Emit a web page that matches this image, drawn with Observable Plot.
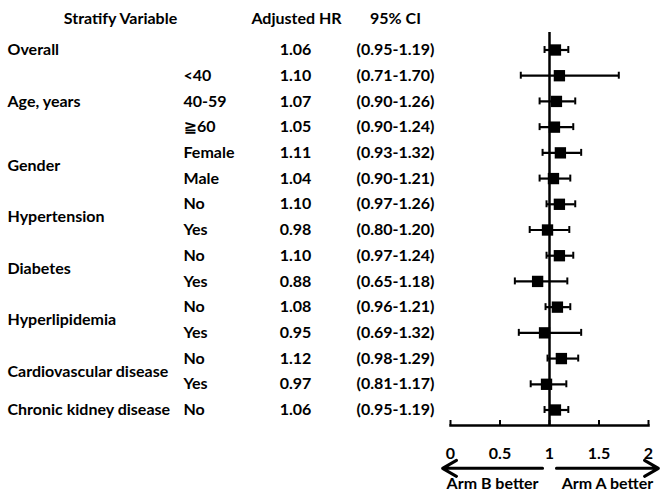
<!DOCTYPE html>
<html><head><meta charset="utf-8">
<script src="https://cdn.jsdelivr.net/npm/d3@7"></script>
<script src="https://cdn.jsdelivr.net/npm/@observablehq/plot@0.6"></script>
<style>
body{margin:0;background:#fff}
svg{font-family:Lato,"Open Sans","DejaVu Sans",sans-serif;font-weight:bold}
</style>
</head><body><div id="chart"></div>
<script>
const variables = ["Overall","Age, years","Age, years","Age, years","Gender","Gender","Hypertension","Hypertension","Diabetes","Diabetes","Hyperlipidemia","Hyperlipidemia","Cardiovascular disease","Cardiovascular disease","Chronic kidney disease"];
const subgroups = ["","<40","40-59","≧60","Female","Male","No","Yes","No","Yes","No","Yes","No","Yes","No"];
const hr = [1.06,1.10,1.07,1.05,1.11,1.04,1.10,0.98,1.10,0.88,1.08,0.95,1.12,0.97,1.06];
const lower = [0.95,0.71,0.90,0.90,0.93,0.90,0.97,0.80,0.97,0.65,0.96,0.69,0.98,0.81,0.95];
const upper = [1.19,1.70,1.26,1.24,1.32,1.21,1.26,1.20,1.24,1.18,1.21,1.32,1.29,1.17,1.19];
const headers = ["Stratify Variable","Adjusted HR","95% CI"];
const xTicks = [0,0.5,1,1.5,2];
const arrowLabels = ["Arm B better","Arm A better"];
const arrowFrom = [0.93, 1.07];
const arrowTo = [-0.08, 2.1];
const ARROW_ROW = 16.27;

const rows = hr.map((h,i)=>({i, variable:variables[i], subgroup:subgroups[i], hr:h, lower:lower[i], upper:upper[i],
  ci:`(${lower[i].toFixed(2)}-${upper[i].toFixed(2)})`}));
const groups = d3.groups(rows, d=>d.variable).map(([v, rs])=>({variable:v, pos:d3.mean(rs, r=>r.i)}));
const arrows = arrowLabels.map((t,i)=>({t, x1:arrowFrom[i], x2:arrowTo[i], xm:(arrowFrom[i]+arrowTo[i])/2}));
const CAP = 0.135;
const FS = 16;

const chart = Plot.plot({
  width: 661, height: 493,
  marginLeft: 450, marginRight: 13, marginTop: 32, marginBottom: 68,
  x: {domain:[0,2]},
  y: {domain:[0,14], range:[49.5,409.5], axis:null},
  style: {fontSize: FS+"px", fontWeight:"bold", color:"#000"},
  marks: [
    Plot.ruleX([1], {strokeWidth:2.5}),
    Plot.frame({anchor:"bottom", strokeWidth:2.5}),
    Plot.axisX({ticks:xTicks, tickSize:-5, tickPadding:27, tickFormat:d=>String(d), fontSize:FS, fontWeight:"bold", strokeWidth:2}),
    Plot.ruleY(rows, {y:"i", x1:"lower", x2:"upper", strokeWidth:2.2}),
    Plot.ruleX(rows, {x:"lower", y1:d=>d.i-CAP, y2:d=>d.i+CAP, strokeWidth:2}),
    Plot.ruleX(rows, {x:"upper", y1:d=>d.i-CAP, y2:d=>d.i+CAP, strokeWidth:2}),
    Plot.dot(rows, {x:"hr", y:"i", symbol:"square", r:6.4, fill:"black", stroke:null}),
    Plot.text(groups, {y:"pos", text:"variable", frameAnchor:"left", dx:-443, textAnchor:"start", fontSize:FS}),
    Plot.text(rows, {y:"i", text:"subgroup", frameAnchor:"left", dx:-267, textAnchor:"start", fontSize:FS}),
    Plot.text(rows, {y:"i", text:d=>d.hr.toFixed(2), frameAnchor:"left", dx:-155, textAnchor:"middle", fontSize:FS}),
    Plot.text(rows, {y:"i", text:"ci", frameAnchor:"left", dx:-55, textAnchor:"middle", fontSize:FS}),
    Plot.text([headers[0]], {text:d=>d, frameAnchor:"top-left", dx:-330, dy:-19.5, textAnchor:"middle", fontSize:FS}),
    Plot.text([headers[1]], {text:d=>d, frameAnchor:"top-left", dx:-154, dy:-19.5, textAnchor:"middle", fontSize:FS}),
    Plot.text([headers[2]], {text:d=>d, frameAnchor:"top-left", dx:-55, dy:-19.5, textAnchor:"middle", fontSize:FS}),
    Plot.arrow(arrows, {x1:"x1", x2:"x2", y1:()=>ARROW_ROW, y2:()=>ARROW_ROW, strokeWidth:3, headLength:8, headAngle:60}),
    Plot.text(arrows, {x:"xm", y:()=>ARROW_ROW, dy:15.5, text:"t", fontSize:FS})
  ]
});
document.getElementById("chart").append(chart);
</script>
</body></html>
